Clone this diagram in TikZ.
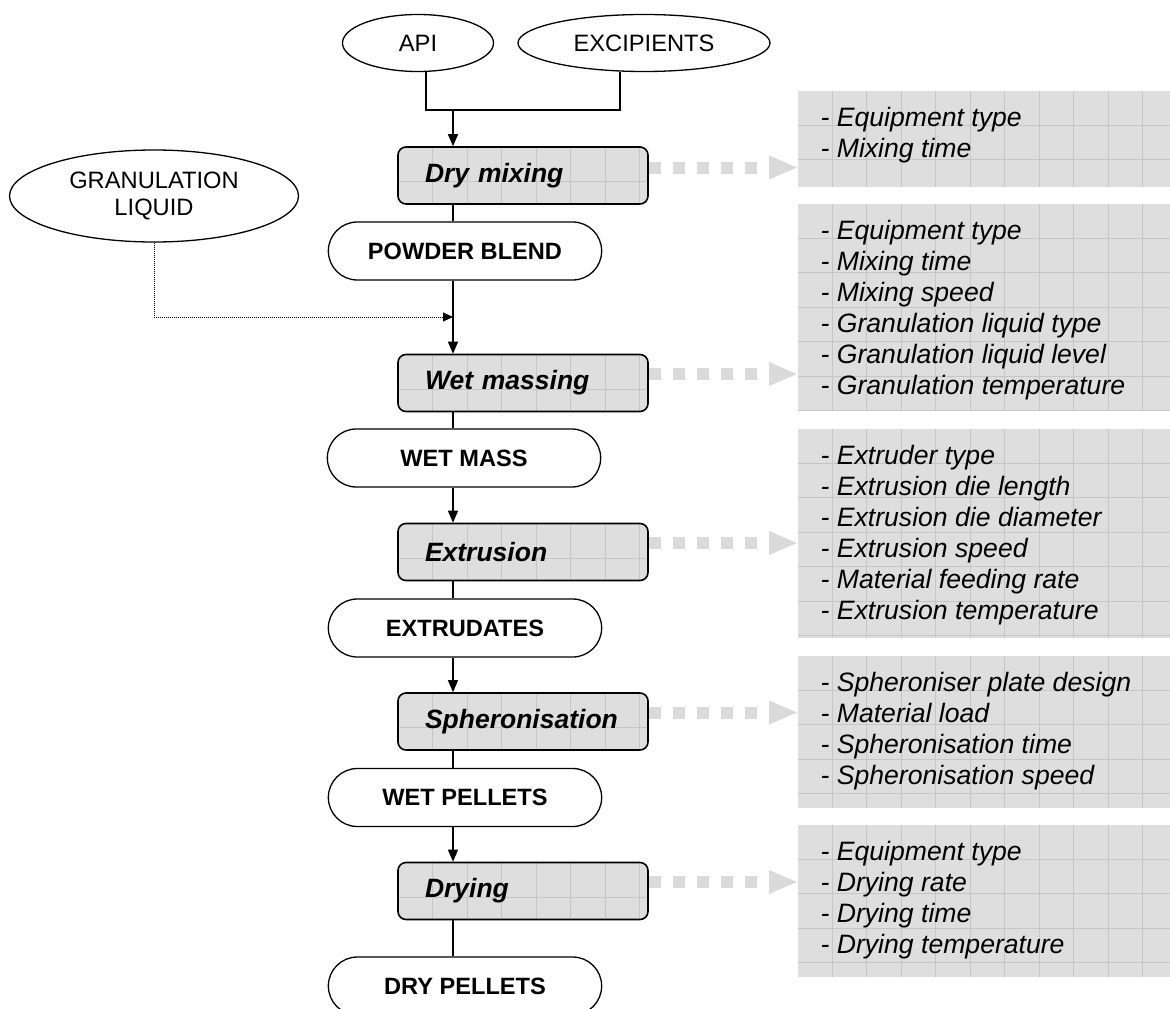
\documentclass[tikz,border=0pt]{standalone}
\usepackage{fontspec}
\setmainfont{Liberation Sans}
\usetikzlibrary{arrows.meta,shapes.geometric,shapes.misc,positioning}
\definecolor{boxgray}{RGB}{222,222,222}
\definecolor{gridgray}{RGB}{198,198,198}
\definecolor{arrowgray}{RGB}{218,218,218}
\tikzset{
  gridfill/.style={fill=boxgray, path picture={
    \foreach \k in {1,...,11} {
      \draw[gridgray, line width=0.7pt]
        ([xshift=\k*34.5pt]path picture bounding box.north west) --
        ([xshift=\k*34.5pt]path picture bounding box.south west);
      \draw[gridgray, line width=0.7pt]
        ([yshift=-\k*34.5pt]path picture bounding box.north west) --
        ([yshift=-\k*34.5pt]path picture bounding box.north east);
    }}},
  source/.style={ellipse, draw, fill=white, line width=1.3pt, inner sep=0pt,
    font=\fontsize{23.7}{27}\selectfont, align=center},
  process/.style={gridfill, draw, line width=1.6pt, rounded corners=8pt,
    minimum height=57pt, text width=196pt, inner xsep=27pt, align=left,
    font=\fontsize{26.5}{30}\selectfont\bfseries\itshape},
  product/.style={rounded rectangle, draw, fill=white, line width=1.3pt,
    minimum width=280pt, minimum height=58pt,
    font=\fontsize{23.6}{27}\selectfont\bfseries},
  infobox/.style={gridfill, minimum width=380pt, anchor=north west, inner sep=0pt},
  infotext/.style={anchor=north west, inner sep=0pt, align=left,
    font=\fontsize{26.6}{31}\selectfont\itshape},
  infoarrow/.style={arrowgray, line width=12pt, dash pattern=on 12pt off 12pt,
    -{Triangle[length=28pt,width=24pt,line width=0pt]}},
  feed/.style={densely dotted, line width=1pt, -{Triangle[length=10pt,width=9pt]}}
}
\begin{document}
\begin{tikzpicture}[x=1pt,y=-1pt,line width=1.3pt,>={Triangle[length=12pt,width=10pt]}]
  \useasboundingbox (0,0) rectangle (1170,1009);
  \path (418,43) node[source, minimum width=151pt, minimum height=57pt] (api) {API}
        (644,43) node[source, minimum width=252pt, minimum height=57pt] (excipients) {EXCIPIENTS}
        (154,196) node[source, minimum width=289pt, minimum height=92pt] (liquid) {GRANULATION\\LIQUID}
        (523,175.5) node[process] (drymix) {Dry mixing}
        (465,251) node[product] (blend) {POWDER BLEND}
        (523,383) node[process] (wetmass) {Wet massing}
        (464,458) node[product] (mass) {WET MASS}
        (523,552) node[process] (extrusion) {Extrusion}
        (465,628) node[product] (extrudates) {EXTRUDATES}
        (523,721.5) node[process] (spheron) {Spheronisation}
        (465,797.5) node[product] (wetpellets) {WET PELLETS}
        (523,891) node[process] (drying) {Drying}
        (465,986) node[product] (drypellets) {DRY PELLETS};
  \path (797,90) node[infobox, minimum height=96pt] (p1) {}
        (797,203) node[infobox, minimum height=207pt] (p2) {}
        (797,428) node[infobox, minimum height=209pt] (p3) {}
        (797,655) node[infobox, minimum height=152pt] (p4) {}
        (797,824) node[infobox, minimum height=152pt] (p5) {};
  \node [infotext] (t1) at ([shift={(23,17)}]p1.north west)
    {- Equipment type\\- Mixing time};
  \node [infotext] (t2) at ([shift={(23,17)}]p2.north west)
    {- Equipment type\\- Mixing time\\- Mixing speed\\- Granulation liquid type\\- Granulation liquid level\\- Granulation temperature};
  \node [infotext] (t3) at ([shift={(23,17)}]p3.north west)
    {- Extruder type\\- Extrusion die length\\- Extrusion die diameter\\- Extrusion speed\\- Material feeding rate\\- Extrusion temperature};
  \node [infotext] (t4) at ([shift={(23,17)}]p4.north west)
    {- Spheroniser plate design\\- Material load\\- Spheronisation time\\- Spheronisation speed};
  \node [infotext] (t5) at ([shift={(23,17)}]p5.north west)
    {- Equipment type\\- Drying rate\\- Drying time\\- Drying temperature};
  \coordinate (join) at (453,110);
  \coordinate (inlet) at (453,317);
  \draw ([xshift=8pt]api.south) |- (join) -| ([xshift=-24pt]excipients.south);
  \draw [->] (join) to (drymix.north -| join);
  \draw (drymix.south -| join) to (blend.north -| join);
  \draw [->] (blend.south -| join) to (wetmass.north -| join);
  \draw (wetmass.south -| join) to (mass.north -| join);
  \draw [->] (mass.south -| join) to (extrusion.north -| join);
  \draw (extrusion.south -| join) to (extrudates.north -| join);
  \draw [->] (extrudates.south -| join) to (spheron.north -| join);
  \draw (spheron.south -| join) to (wetpellets.north -| join);
  \draw [->] (wetpellets.south -| join) to (drying.north -| join);
  \draw (drying.south -| join) to (drypellets.north -| join);
  \draw [feed] (liquid.south) |- (inlet);
  \draw [infoarrow] ([yshift=8pt]drymix.east) to ([yshift=8pt]drymix.east -| p1.west);
  \draw [infoarrow] ([yshift=9pt]wetmass.east) to ([yshift=9pt]wetmass.east -| p2.west);
  \draw [infoarrow] ([yshift=9pt]extrusion.east) to ([yshift=9pt]extrusion.east -| p3.west);
  \draw [infoarrow] ([yshift=9pt]spheron.east) to ([yshift=9pt]spheron.east -| p4.west);
  \draw [infoarrow] ([yshift=9pt]drying.east) to ([yshift=9pt]drying.east -| p5.west);
\end{tikzpicture}
\end{document}
